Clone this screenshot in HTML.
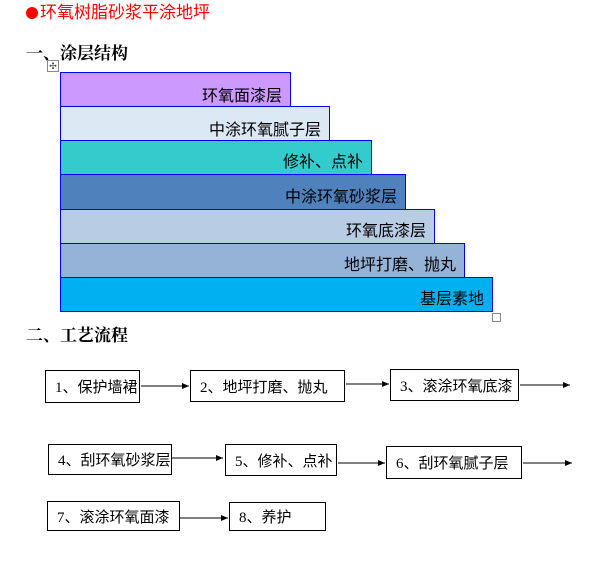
<!DOCTYPE html>
<html><head><meta charset="utf-8"><style>
body{margin:0;width:605px;height:564px;background:#fff;position:relative;overflow:hidden;font-family:"Liberation Serif","Noto Serif CJK SC","Noto Sans CJK SC",serif;}
.a{position:absolute;}
.l{position:absolute;left:60px;border:1px solid #0000ff;box-sizing:border-box;text-align:right;padding-right:8px;font-size:16px;line-height:16px;font-family:"Liberation Sans","Noto Sans CJK SC",sans-serif;color:#000;}
.b{position:absolute;border:1px solid #000;box-sizing:border-box;font-size:15px;font-family:"Liberation Serif","Noto Sans CJK SC",sans-serif;padding-left:9px;display:flex;align-items:center;white-space:nowrap;}
</style></head><body>
<div class="a" style="left:26px;top:3px;color:#f00;font-size:17px;line-height:20px;font-family:'Liberation Sans','Noto Sans CJK SC',sans-serif;"><span style="display:inline-block;width:12px;height:12px;border-radius:50%;background:#f00;margin-right:2px;vertical-align:-1px"></span>环氧树脂砂浆平涂地坪</div>
<div class="a" style="left:26px;top:41px;font-size:17px;font-weight:bold;line-height:22px;font-family:'Noto Serif CJK SC',serif;">一、涂层结构</div>
<div class="a" style="left:47px;top:60px;width:10px;height:10px;border:1px solid #888;font-size:9px;line-height:10px;text-align:center;color:#444">✣</div>
<div class="l" style="top:72px;width:231px;height:35px;background:#cc99ff;padding-top:16px">环氧面漆层</div>
<div class="l" style="top:106px;width:270px;height:35px;background:#dde8f5;padding-top:16px">中涂环氧腻子层</div>
<div class="l" style="top:140px;width:312px;height:35px;background:#33cccc;padding-top:14px">修补、点补</div>
<div class="l" style="top:174px;width:346px;height:36px;background:#4f81bd;padding-top:15px">中涂环氧砂浆层</div>
<div class="l" style="top:209px;width:375px;height:35px;background:#b8cce4;padding-top:14px">环氧底漆层</div>
<div class="l" style="top:243px;width:405px;height:35px;background:#95b3d7;padding-top:14px">地坪打磨、抛丸</div>
<div class="l" style="top:277px;width:433px;height:35px;background:#00b0f0;padding-top:14px">基层素地</div>
<div class="a" style="left:492px;top:313px;width:7px;height:7px;border:1px solid #888"></div>
<div class="a" style="left:26px;top:323px;font-size:17px;font-weight:bold;line-height:22px;font-family:'Noto Serif CJK SC',serif;">二、工艺流程</div>
<div class="b" style="left:45px;top:370px;width:95px;height:33px">1、保护墙裙</div>
<div class="b" style="left:190px;top:370px;width:155px;height:32px">2、地坪打磨、抛丸</div>
<div class="b" style="left:390px;top:369px;width:129px;height:32px">3、滚涂环氧底漆</div>
<div class="b" style="left:48px;top:444px;width:124px;height:31px">4、刮环氧砂浆层</div>
<div class="b" style="left:225px;top:444px;width:112px;height:32px">5、修补、点补</div>
<div class="b" style="left:386px;top:446px;width:136px;height:33px">6、刮环氧腻子层</div>
<div class="b" style="left:47px;top:501px;width:133px;height:30px">7、滚涂环氧面漆</div>
<div class="b" style="left:229px;top:502px;width:97px;height:29px">8、养护</div>
<svg class="a" style="left:0;top:0" width="605" height="564">
<defs><marker id="m" markerWidth="7" markerHeight="6" refX="7" refY="3" orient="auto" markerUnits="userSpaceOnUse"><path d="M0,0L7,3L0,6z" fill="#000"/></marker></defs>
<g stroke="#000" stroke-width="1" marker-end="url(#m)">
<line x1="141" y1="386" x2="189" y2="386"/>
<line x1="346" y1="384" x2="389" y2="384"/>
<line x1="520" y1="385" x2="570" y2="385"/>
<line x1="172" y1="458" x2="223" y2="458"/>
<line x1="338" y1="463" x2="385" y2="463"/>
<line x1="523" y1="463" x2="572" y2="463"/>
<line x1="180" y1="518" x2="228" y2="518"/>
</g></svg>
</body></html>
